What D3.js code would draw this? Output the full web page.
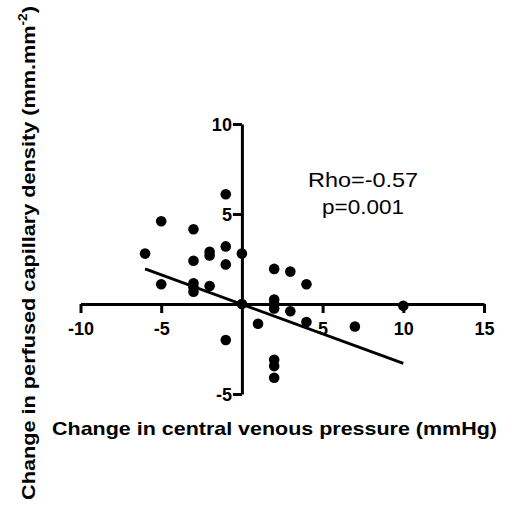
<!DOCTYPE html>
<html><head><meta charset="utf-8">
<script src="https://cdn.jsdelivr.net/npm/d3@7"></script>
<style>body{margin:0;background:#fff}svg{display:block}</style>
</head><body>
<svg id="c" width="512" height="508"></svg>
<script>
const xValues = [-1,-5,-3,-6,-2,-2,-1,0,-3,-1,-5,-3,-3,-3,-2,0,2,3,4,2,2,2,3,1,4,7,2,2,2,10,-1];
const yValues = [6.1,4.6,4.15,2.8,2.9,2.7,3.2,2.8,2.4,2.2,1.1,1.15,0.93,0.68,1.0,0,1.95,1.8,1.1,0.25,0.0,-0.25,-0.4,-1.1,-1.0,-1.25,-3.1,-3.45,-4.1,-0.1,-2.0];
const xTicks = [-10,-5,0,5,10,15];
const yTicks = [-5,5,10];
const fitX = [-6,10];
const fitY = [1.95,-3.3];
const stats = ["Rho=-0.57","p=0.001"];

const svg = d3.select("#c");
const font = "Arial, 'Liberation Sans', sans-serif";
const x = d3.scaleLinear().domain([-10,15]).range([80.5,484]);
const y = d3.scaleLinear().domain([-5,10]).range([394,124]);

// x axis
const xa = svg.append("g").attr("transform",`translate(0,${y(0)})`)
  .call(d3.axisBottom(x).tickValues(xTicks).tickSize(9).tickSizeOuter(0).tickFormat(d=>d===0?"":String(d)));
xa.select(".domain").attr("stroke","#000").attr("stroke-width",3);
xa.selectAll(".tick line").attr("stroke","#000").attr("stroke-width",3)
  .filter(d=>d===0).remove();
xa.selectAll(".tick text").attr("font-family",font).attr("font-size",18).attr("font-weight","bold").attr("fill","#000").attr("dy","0.71em").attr("y",18);

// y axis
const ya = svg.append("g").attr("transform",`translate(${x(0)},0)`)
  .call(d3.axisLeft(y).tickValues(yTicks).tickSize(9).tickSizeOuter(0).tickFormat(d=>String(d)));
ya.select(".domain").attr("stroke","#000").attr("stroke-width",3);
ya.selectAll(".tick line").attr("stroke","#000").attr("stroke-width",3);
ya.selectAll(".tick text").attr("font-family",font).attr("font-size",18).attr("font-weight","bold").attr("fill","#000").attr("x",-10).attr("dy","0.36em");

// fit line
svg.append("line").attr("x1",x(fitX[0])).attr("y1",y(fitY[0])).attr("x2",x(fitX[1])).attr("y2",y(fitY[1]))
  .attr("stroke","#000").attr("stroke-width",3);

// points
svg.append("g").selectAll("circle").data(xValues).join("circle")
  .attr("cx",d=>x(d)).attr("cy",(d,i)=>y(yValues[i])).attr("r",5.3).attr("fill","#000");

function placeText(t, tx, ty, rot, targetW){
  const w = t.node().getBBox().width;
  const s = targetW / w;
  t.attr("transform",`translate(${tx},${ty})${rot?" rotate("+rot+")":""} scale(${s},1)`);
}

// stats
stats.forEach((s,i)=>{
  const t = svg.append("text").attr("text-anchor","middle").attr("font-family",font).attr("font-size",21).text(s);
  placeText(t, 363, 187 + i*27, 0, i===0?110:82);
});

// x title
const xt = svg.append("text").attr("text-anchor","middle").attr("font-family",font).attr("font-size",19).attr("font-weight","bold")
  .text("Change in central venous pressure (mmHg)");
placeText(xt, 274.5, 435, 0, 445);

// y title
const yt = svg.append("text").attr("text-anchor","middle").attr("font-family",font).attr("font-size",19).attr("font-weight","bold");
yt.append("tspan").text("Change in perfused capillary density (mm.mm");
yt.append("tspan").attr("font-size",12).attr("dy",-8).text("-2");
yt.append("tspan").attr("dy",8).text(")");
placeText(yt, 35, 253, -90, 494);
</script>
</body></html>
